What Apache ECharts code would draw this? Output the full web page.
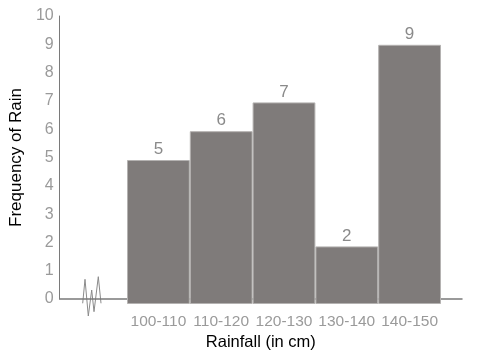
<!DOCTYPE html>
<html>
<head>
<meta charset="utf-8">
<script src="https://cdn.jsdelivr.net/npm/echarts@6/dist/echarts.min.js"></script>
<style>html,body{margin:0;padding:0;background:#fff}#c{width:492px;height:356px}</style>
</head>
<body>
<div id="c"></div>
<script>
const categories = ['100-110', '110-120', '120-130', '130-140', '140-150'];
const frequency = [5, 6, 7, 2, 9];
const yTicks = [0, 1, 2, 3, 4, 5, 6, 7, 8, 9, 10];

const chart = echarts.init(document.getElementById('c'), null, {renderer: 'canvas'});
const font = 'Liberation Sans, Arial, sans-serif';
const TOP = 16, BOTTOM = 52;
chart.setOption({
  animation: false,
  grid: [
    {left: 52, right: 30, top: TOP, bottom: BOTTOM},
    {left: 127, right: 51, top: TOP, bottom: BOTTOM}
  ],
  xAxis: [
    {
      gridIndex: 0, type: 'value', min: 0, max: 1,
      axisLine: {show: true, lineStyle: {color: '#7a7a7a', width: 1.5}},
      axisTick: {show: false}, axisLabel: {show: false}, splitLine: {show: false},
      name: 'Rainfall (in cm)', nameLocation: 'middle', nameGap: 35,
      nameTextStyle: {color: '#000', fontSize: 16.5, fontFamily: font}
    },
    {
      gridIndex: 1, type: 'category', data: categories,
      axisLine: {show: false}, axisTick: {show: false},
      axisLabel: {color: '#9a9a9a', fontSize: 15.5, fontFamily: font, margin: 10, interval: 0}
    }
  ],
  yAxis: [
    {
      gridIndex: 0, type: 'value', min: yTicks[0], max: yTicks[yTicks.length - 1], interval: 1,
      axisLine: {show: true, lineStyle: {color: '#7a7a7a', width: 1}},
      axisTick: {show: false}, splitLine: {show: false},
      axisLabel: {color: '#9a9a9a', fontSize: 16, fontFamily: font, margin: 6},
      name: 'Frequency of Rain', nameLocation: 'middle', nameGap: 30,
      nameTextStyle: {color: '#000', fontSize: 17, fontFamily: font}
    },
    {
      gridIndex: 1, type: 'value', min: yTicks[0], max: yTicks[yTicks.length - 1], interval: 1,
      show: false
    }
  ],
  series: [{
    type: 'bar', xAxisIndex: 1, yAxisIndex: 1,
    data: frequency,
    barCategoryGap: '0%',
    itemStyle: {color: '#7f7b7a', borderColor: '#b4b2b1', borderWidth: 1},
    label: {show: true, position: 'top', distance: 2, color: '#8a8a8a', fontSize: 17, fontFamily: font}
  }],
  graphic: [{
    type: 'polyline', silent: true,
    shape: {points: [[82.7, 303.3], [85, 279.3], [88.3, 316], [91.7, 290], [94, 311.7], [98.3, 276.7], [101, 303.3]]},
    style: {stroke: '#8a8a8a', lineWidth: 1, fill: null}
  }]
});
</script>
</body>
</html>
